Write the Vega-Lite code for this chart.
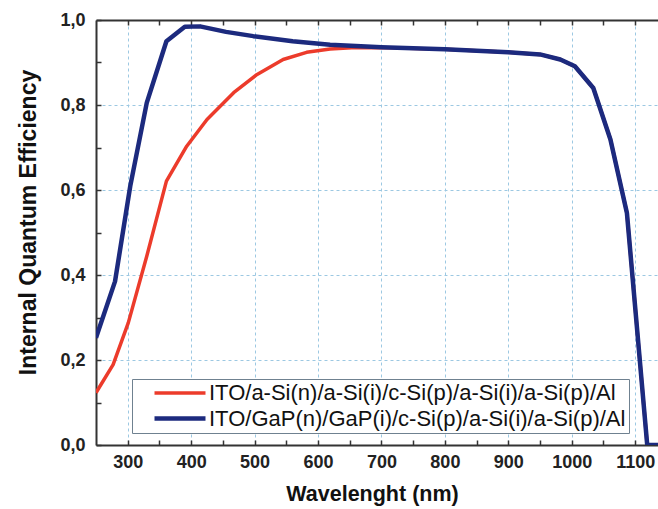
{
  "$schema": "https://vega.github.io/schema/vega-lite/v6.json",
  "width": 562,
  "height": 425,
  "autosize": {"type": "none"},
  "padding": {"left": 96, "top": 20, "right": 0, "bottom": 64},
  "background": "white",
  "config": {"view": {"stroke": null}, "font": "Liberation Sans"},
  "data": {
    "values": [
      {"Device": "ITO/a-Si(n)/a-Si(i)/c-Si(p)/a-Si(i)/a-Si(p)/Al", "Wavelength": 250, "IQE": 0.123},
      {"Device": "ITO/a-Si(n)/a-Si(i)/c-Si(p)/a-Si(i)/a-Si(p)/Al", "Wavelength": 277, "IQE": 0.189},
      {"Device": "ITO/a-Si(n)/a-Si(i)/c-Si(p)/a-Si(i)/a-Si(p)/Al", "Wavelength": 301, "IQE": 0.288},
      {"Device": "ITO/a-Si(n)/a-Si(i)/c-Si(p)/a-Si(i)/a-Si(p)/Al", "Wavelength": 330, "IQE": 0.444},
      {"Device": "ITO/a-Si(n)/a-Si(i)/c-Si(p)/a-Si(i)/a-Si(p)/Al", "Wavelength": 361, "IQE": 0.621},
      {"Device": "ITO/a-Si(n)/a-Si(i)/c-Si(p)/a-Si(i)/a-Si(p)/Al", "Wavelength": 393, "IQE": 0.703},
      {"Device": "ITO/a-Si(n)/a-Si(i)/c-Si(p)/a-Si(i)/a-Si(p)/Al", "Wavelength": 425, "IQE": 0.766},
      {"Device": "ITO/a-Si(n)/a-Si(i)/c-Si(p)/a-Si(i)/a-Si(p)/Al", "Wavelength": 467, "IQE": 0.829},
      {"Device": "ITO/a-Si(n)/a-Si(i)/c-Si(p)/a-Si(i)/a-Si(p)/Al", "Wavelength": 504, "IQE": 0.872},
      {"Device": "ITO/a-Si(n)/a-Si(i)/c-Si(p)/a-Si(i)/a-Si(p)/Al", "Wavelength": 545, "IQE": 0.907},
      {"Device": "ITO/a-Si(n)/a-Si(i)/c-Si(p)/a-Si(i)/a-Si(p)/Al", "Wavelength": 582, "IQE": 0.924},
      {"Device": "ITO/a-Si(n)/a-Si(i)/c-Si(p)/a-Si(i)/a-Si(p)/Al", "Wavelength": 619, "IQE": 0.932},
      {"Device": "ITO/a-Si(n)/a-Si(i)/c-Si(p)/a-Si(i)/a-Si(p)/Al", "Wavelength": 660, "IQE": 0.935},
      {"Device": "ITO/a-Si(n)/a-Si(i)/c-Si(p)/a-Si(i)/a-Si(p)/Al", "Wavelength": 700, "IQE": 0.935},
      {"Device": "ITO/a-Si(n)/a-Si(i)/c-Si(p)/a-Si(i)/a-Si(p)/Al", "Wavelength": 800, "IQE": 0.931},
      {"Device": "ITO/a-Si(n)/a-Si(i)/c-Si(p)/a-Si(i)/a-Si(p)/Al", "Wavelength": 900, "IQE": 0.924},
      {"Device": "ITO/a-Si(n)/a-Si(i)/c-Si(p)/a-Si(i)/a-Si(p)/Al", "Wavelength": 950, "IQE": 0.919},
      {"Device": "ITO/a-Si(n)/a-Si(i)/c-Si(p)/a-Si(i)/a-Si(p)/Al", "Wavelength": 982, "IQE": 0.907},
      {"Device": "ITO/a-Si(n)/a-Si(i)/c-Si(p)/a-Si(i)/a-Si(p)/Al", "Wavelength": 1005, "IQE": 0.891},
      {"Device": "ITO/a-Si(n)/a-Si(i)/c-Si(p)/a-Si(i)/a-Si(p)/Al", "Wavelength": 1034, "IQE": 0.84},
      {"Device": "ITO/a-Si(n)/a-Si(i)/c-Si(p)/a-Si(i)/a-Si(p)/Al", "Wavelength": 1061, "IQE": 0.719},
      {"Device": "ITO/a-Si(n)/a-Si(i)/c-Si(p)/a-Si(i)/a-Si(p)/Al", "Wavelength": 1087, "IQE": 0.546},
      {"Device": "ITO/a-Si(n)/a-Si(i)/c-Si(p)/a-Si(i)/a-Si(p)/Al", "Wavelength": 1119, "IQE": 0.0},
      {"Device": "ITO/a-Si(n)/a-Si(i)/c-Si(p)/a-Si(i)/a-Si(p)/Al", "Wavelength": 1136, "IQE": 0.0},
      {"Device": "ITO/GaP(n)/GaP(i)/c-Si(p)/a-Si(i)/a-Si(p)/Al", "Wavelength": 250, "IQE": 0.252},
      {"Device": "ITO/GaP(n)/GaP(i)/c-Si(p)/a-Si(i)/a-Si(p)/Al", "Wavelength": 280, "IQE": 0.385},
      {"Device": "ITO/GaP(n)/GaP(i)/c-Si(p)/a-Si(i)/a-Si(p)/Al", "Wavelength": 304, "IQE": 0.609},
      {"Device": "ITO/GaP(n)/GaP(i)/c-Si(p)/a-Si(i)/a-Si(p)/Al", "Wavelength": 330, "IQE": 0.805},
      {"Device": "ITO/GaP(n)/GaP(i)/c-Si(p)/a-Si(i)/a-Si(p)/Al", "Wavelength": 361, "IQE": 0.95},
      {"Device": "ITO/GaP(n)/GaP(i)/c-Si(p)/a-Si(i)/a-Si(p)/Al", "Wavelength": 390, "IQE": 0.984},
      {"Device": "ITO/GaP(n)/GaP(i)/c-Si(p)/a-Si(i)/a-Si(p)/Al", "Wavelength": 414, "IQE": 0.985},
      {"Device": "ITO/GaP(n)/GaP(i)/c-Si(p)/a-Si(i)/a-Si(p)/Al", "Wavelength": 455, "IQE": 0.972},
      {"Device": "ITO/GaP(n)/GaP(i)/c-Si(p)/a-Si(i)/a-Si(p)/Al", "Wavelength": 498, "IQE": 0.962},
      {"Device": "ITO/GaP(n)/GaP(i)/c-Si(p)/a-Si(i)/a-Si(p)/Al", "Wavelength": 560, "IQE": 0.95},
      {"Device": "ITO/GaP(n)/GaP(i)/c-Si(p)/a-Si(i)/a-Si(p)/Al", "Wavelength": 619, "IQE": 0.942},
      {"Device": "ITO/GaP(n)/GaP(i)/c-Si(p)/a-Si(i)/a-Si(p)/Al", "Wavelength": 700, "IQE": 0.936},
      {"Device": "ITO/GaP(n)/GaP(i)/c-Si(p)/a-Si(i)/a-Si(p)/Al", "Wavelength": 800, "IQE": 0.931},
      {"Device": "ITO/GaP(n)/GaP(i)/c-Si(p)/a-Si(i)/a-Si(p)/Al", "Wavelength": 900, "IQE": 0.924},
      {"Device": "ITO/GaP(n)/GaP(i)/c-Si(p)/a-Si(i)/a-Si(p)/Al", "Wavelength": 950, "IQE": 0.919},
      {"Device": "ITO/GaP(n)/GaP(i)/c-Si(p)/a-Si(i)/a-Si(p)/Al", "Wavelength": 982, "IQE": 0.907},
      {"Device": "ITO/GaP(n)/GaP(i)/c-Si(p)/a-Si(i)/a-Si(p)/Al", "Wavelength": 1005, "IQE": 0.891},
      {"Device": "ITO/GaP(n)/GaP(i)/c-Si(p)/a-Si(i)/a-Si(p)/Al", "Wavelength": 1034, "IQE": 0.84},
      {"Device": "ITO/GaP(n)/GaP(i)/c-Si(p)/a-Si(i)/a-Si(p)/Al", "Wavelength": 1061, "IQE": 0.719},
      {"Device": "ITO/GaP(n)/GaP(i)/c-Si(p)/a-Si(i)/a-Si(p)/Al", "Wavelength": 1087, "IQE": 0.546},
      {"Device": "ITO/GaP(n)/GaP(i)/c-Si(p)/a-Si(i)/a-Si(p)/Al", "Wavelength": 1119, "IQE": 0.0},
      {"Device": "ITO/GaP(n)/GaP(i)/c-Si(p)/a-Si(i)/a-Si(p)/Al", "Wavelength": 1136, "IQE": 0.0}
    ]
  },
  "layer": [
    {
      "mark": {"type": "line", "strokeJoin": "round", "strokeCap": "butt", "clip": true},
      "encoding": {
        "x": {
          "field": "Wavelength", "type": "quantitative",
          "scale": {"domain": [250, 1136], "nice": false, "zero": false},
          "axis": {
            "orient": "bottom",
            "title": "Wavelenght (nm)",
            "titleFontSize": 21.5, "titleFontWeight": "bold", "titleColor": "#111",
            "titlePadding": 12, "titleX": 276,
            "values": [300, 350, 400, 450, 500, 550, 600, 650, 700, 750, 800, 850, 900, 950, 1000, 1050, 1100],
            "labelExpr": "datum.value % 100 == 0 ? format(datum.value, 'd') : ''",
            "labelFontSize": 18, "labelFontWeight": "bold", "labelColor": "#222",
            "labelPadding": 13,
            "tickSize": -5, "tickColor": "#333", "tickWidth": 1.5,
            "domainColor": "#333", "domainWidth": 2,
            "grid": true, "gridColor": "#9cc8e2", "gridDash": [3, 3], "gridWidth": 1,
            "gridOpacity": {"condition": {"test": "datum.value % 100 == 0", "value": 1}, "value": 0}
          }
        },
        "y": {
          "field": "IQE", "type": "quantitative",
          "scale": {"domain": [0, 1], "nice": false},
          "axis": {
            "title": "Internal Quantum Efficiency",
            "titleFontSize": 23, "titleFontWeight": "bold", "titleColor": "#111",
            "titlePadding": 19, "titleY": 202,
            "values": [0, 0.1, 0.2, 0.3, 0.4, 0.5, 0.6, 0.7, 0.8, 0.9, 1.0],
            "labelExpr": "round(datum.value * 10) % 2 == 0 ? replace(format(datum.value, '.1f'), '.', ',') : ''",
            "labelFontSize": 18, "labelFontWeight": "bold", "labelColor": "#222",
            "labelPadding": 16,
            "tickSize": -5, "tickColor": "#333", "tickWidth": 1.5,
            "domainColor": "#333", "domainWidth": 2,
            "grid": true, "gridColor": "#9cc8e2", "gridDash": [3, 3], "gridWidth": 1,
            "gridOpacity": {"condition": {"test": "round(datum.value * 10) % 2 == 0 && datum.value > 0.05 && datum.value < 0.95", "value": 1}, "value": 0}
          }
        },
        "color": {
          "field": "Device", "type": "nominal",
          "scale": {
            "domain": ["ITO/a-Si(n)/a-Si(i)/c-Si(p)/a-Si(i)/a-Si(p)/Al", "ITO/GaP(n)/GaP(i)/c-Si(p)/a-Si(i)/a-Si(p)/Al"],
            "range": ["#ec3b2b", "#1c2a7e"]
          },
          "legend": {
            "title": null, "orient": "none", "legendX": 36, "legendY": 359,
            "symbolType": "M-5,0H5", "symbolSize": 104, "symbolStrokeWidth": 4,
            "labelFontSize": 22, "labelColor": "#111", "labelLimit": 0, "labelOffset": 18,
            "labelExpr": "datum.label + '  '",
            "strokeColor": "#6f8190", "fillColor": "white", "padding": 3,
            "symbolOffset": 34, "rowPadding": 3.5
          }
        },
        "strokeWidth": {
          "field": "Device", "type": "nominal",
          "scale": {
            "domain": ["ITO/a-Si(n)/a-Si(i)/c-Si(p)/a-Si(i)/a-Si(p)/Al", "ITO/GaP(n)/GaP(i)/c-Si(p)/a-Si(i)/a-Si(p)/Al"],
            "range": [3.5, 4.5]
          },
          "legend": null
        }
      }
    },
    {
      "mark": {"type": "rule", "opacity": 0},
      "encoding": {
        "x": {
          "field": "Wavelength", "type": "quantitative",
          "axis": {
            "orient": "top", "title": null, "labels": false, "grid": false,
            "values": [300, 350, 400, 450, 500, 550, 600, 650, 700, 750, 800, 850, 900, 950, 1000, 1050, 1100],
            "tickSize": -5, "tickColor": "#333", "tickWidth": 1.5,
            "domainColor": "#333", "domainWidth": 2
          }
        }
      }
    }
  ],
  "resolve": {"axis": {"x": "independent"}}
}
